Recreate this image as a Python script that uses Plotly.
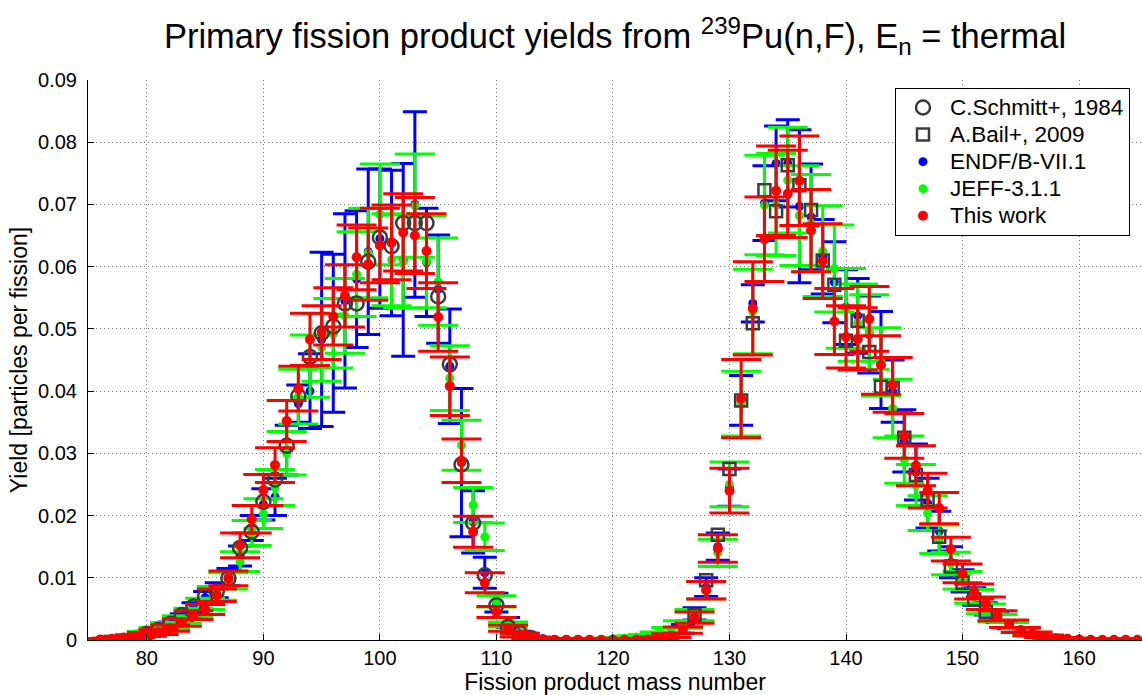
import plotly.graph_objects as go

# ---------------- data ----------------
# This work (red) : mass numbers 76..165
A_work = list(range(76, 166))
Y_work = [0.0001, 0.0002, 0.0004, 0.0006, 0.0009, 0.0013, 0.0019, 0.0028, 0.0040, 0.0049,
          0.0072, 0.0099, 0.0152, 0.0194, 0.0241, 0.0281, 0.0352, 0.0404, 0.0483, 0.0494,
          0.0520, 0.0553, 0.0615, 0.0604, 0.0634, 0.0639, 0.0655, 0.0650, 0.0625, 0.0519,
          0.0408, 0.0288, 0.0174, 0.0092, 0.0045, 0.0019, 0.0008, 0.0003, 0.0001, 0.00005,
          0.00005, 0.00005, 0.00005, 0.00005, 0.00005, 0.00005, 0.00005, 0.0001, 0.0003, 0.0007,
          0.0016, 0.0036, 0.0080, 0.0147, 0.0240, 0.0388, 0.0533, 0.0644, 0.0722, 0.0717,
          0.0738, 0.0658, 0.0609, 0.0512, 0.0487, 0.0484, 0.0516, 0.0442, 0.0410, 0.0328,
          0.0280, 0.0240, 0.0212, 0.0146, 0.0107, 0.0078, 0.0059, 0.0039, 0.0026, 0.0016,
          0.0010, 0.0006, 0.0003, 0.0002, 0.0001, 0.00005, 0.00005, 0.00005, 0.00005, 0.00005]
E_work = [0.0001, 0.0001, 0.0002, 0.0002, 0.0003, 0.0004, 0.0005, 0.0006, 0.0007, 0.0008,
          0.0010, 0.0012, 0.0020, 0.0022, 0.0025, 0.0028, 0.0033, 0.0036, 0.0042, 0.0043,
          0.0046, 0.0050, 0.0052, 0.0058, 0.0060, 0.0060, 0.0062, 0.0061, 0.0060, 0.0055,
          0.0047, 0.0035, 0.0025, 0.0016, 0.0009, 0.0005, 0.0003, 0.0002, 0.0001, 0.0001,
          0.0001, 0.0001, 0.0001, 0.0001, 0.0001, 0.0001, 0.0001, 0.0001, 0.0002, 0.0003,
          0.0005, 0.0009, 0.0014, 0.0022, 0.0036, 0.0063, 0.0075, 0.0068, 0.0072, 0.0070,
          0.0072, 0.0066, 0.0060, 0.0053, 0.0050, 0.0050, 0.0052, 0.0047, 0.0044, 0.0036,
          0.0032, 0.0028, 0.0025, 0.0019, 0.0015, 0.0012, 0.0010, 0.0008, 0.0006, 0.0004,
          0.0003, 0.0002, 0.0001, 0.0001, 0.0001, 0.0001, 0.0001, 0.0001, 0.0001, 0.0001]

# ENDF/B-VII.1 (blue) : 76..160
A_endf = list(range(76, 161))
Y_endf = [0.0001, 0.0002, 0.0004, 0.0007, 0.0011, 0.0016, 0.0024, 0.0036, 0.0052, 0.0068,
          0.0080, 0.0101, 0.0135, 0.0180, 0.0218, 0.0230, 0.0305, 0.0380, 0.0400, 0.0483,
          0.0493, 0.0545, 0.0580, 0.0624, 0.0645, 0.0638, 0.0611, 0.0700, 0.0607, 0.0564,
          0.0440, 0.0285, 0.0190, 0.0108, 0.0060, 0.0028, 0.0010, 0.0004, 0.0002, 0.0001,
          0.0001, 0.0001, 0.0001, 0.0001, 0.0001, 0.0001, 0.0001, 0.0001, 0.0003, 0.0008,
          0.0018, 0.0042, 0.0085, 0.0150, 0.0245, 0.0385, 0.0541, 0.0702, 0.0766, 0.0766,
          0.0697, 0.0680, 0.0616, 0.0575, 0.0535, 0.0521, 0.0491, 0.0450, 0.0400, 0.0320,
          0.0270, 0.0220, 0.0175, 0.0125, 0.0095, 0.0070, 0.0050, 0.0035, 0.0023, 0.0015,
          0.0009, 0.0005, 0.0003, 0.0002, 0.0001]
E_endf = [0.0001, 0.0001, 0.0002, 0.0002, 0.0003, 0.0004, 0.0005, 0.0006, 0.0008, 0.0010,
          0.0012, 0.0014, 0.0016, 0.0020, 0.0025, 0.0030, 0.0040, 0.0030, 0.0060, 0.0140,
          0.0127, 0.0140, 0.0110, 0.0133, 0.0112, 0.0117, 0.0155, 0.0149, 0.0087, 0.0087,
          0.0092, 0.0119, 0.0050, 0.0025, 0.0015, 0.0008, 0.0004, 0.0002, 0.0001, 0.0001,
          0.0001, 0.0001, 0.0001, 0.0001, 0.0001, 0.0001, 0.0001, 0.0001, 0.0002, 0.0004,
          0.0007, 0.0010, 0.0015, 0.0022, 0.0030, 0.0040, 0.0030, 0.0060, 0.0060, 0.0070,
          0.0123, 0.0085, 0.0060, 0.0065, 0.0060, 0.0060, 0.0062, 0.0078, 0.0050, 0.0050,
          0.0045, 0.0040, 0.0032, 0.0025, 0.0018, 0.0014, 0.0010, 0.0007, 0.0005, 0.0003,
          0.0002, 0.0002, 0.0001, 0.0001, 0.0001]

# JEFF-3.1.1 (green) : 76..160
A_jeff = list(range(76, 161))
Y_jeff = [0.0001, 0.0002, 0.0004, 0.0007, 0.0011, 0.0016, 0.0023, 0.0033, 0.0044, 0.0058,
          0.0075, 0.0095, 0.0126, 0.0172, 0.0203, 0.0245, 0.0300, 0.0391, 0.0440, 0.0470,
          0.0493, 0.0521, 0.0588, 0.0622, 0.0684, 0.0611, 0.0608, 0.0698, 0.0608, 0.0576,
          0.0421, 0.0313, 0.0217, 0.0166, 0.0062, 0.0025, 0.0009, 0.0003, 0.0001, 0.0001,
          0.0001, 0.0001, 0.0001, 0.0001, 0.0002, 0.0003, 0.0005, 0.0007, 0.0010, 0.0016,
          0.0025, 0.0040, 0.0080, 0.0140, 0.0250, 0.0380, 0.0528, 0.0699, 0.0700, 0.0739,
          0.0682, 0.0670, 0.0625, 0.0597, 0.0533, 0.0510, 0.0495, 0.0447, 0.0372, 0.0290,
          0.0249, 0.0204, 0.0162, 0.0123, 0.0096, 0.0070, 0.0050, 0.0035, 0.0024, 0.0015,
          0.0009, 0.0005, 0.0003, 0.0002, 0.0001]
E_jeff = [0.0001, 0.0001, 0.0002, 0.0002, 0.0003, 0.0004, 0.0005, 0.0006, 0.0007, 0.0009,
          0.0011, 0.0013, 0.0016, 0.0020, 0.0024, 0.0029, 0.0035, 0.0044, 0.0050, 0.0054,
          0.0056, 0.0060, 0.0068, 0.0072, 0.0081, 0.0074, 0.0075, 0.0083, 0.0074, 0.0070,
          0.0052, 0.0040, 0.0028, 0.0022, 0.0009, 0.0004, 0.0002, 0.0001, 0.0001, 0.0001,
          0.0001, 0.0001, 0.0001, 0.0001, 0.0001, 0.0001, 0.0002, 0.0002, 0.0003, 0.0004,
          0.0006, 0.0009, 0.0014, 0.0022, 0.0036, 0.0052, 0.0068, 0.0080, 0.0082, 0.0085,
          0.0080, 0.0078, 0.0073, 0.0070, 0.0064, 0.0062, 0.0060, 0.0055, 0.0047, 0.0038,
          0.0033, 0.0028, 0.0023, 0.0018, 0.0014, 0.0011, 0.0008, 0.0006, 0.0004, 0.0003,
          0.0002, 0.0001, 0.0001, 0.0001, 0.0001]

# C.Schmitt+, 1984 (open circles) : light peak
A_schmitt = list(range(80, 114))
Y_schmitt = [0.0010, 0.0016, 0.0026, 0.0040, 0.0054, 0.0070, 0.0078, 0.0099, 0.0148, 0.0174,
             0.0222, 0.0258, 0.0312, 0.0392, 0.0455, 0.0493, 0.0504, 0.0541, 0.0541, 0.0608,
             0.0647, 0.0633, 0.0670, 0.0670, 0.0670, 0.0552, 0.0443, 0.0282, 0.0188, 0.0104,
             0.0056, 0.0021, 0.0011, 0.0003]

# A.Bail+, 2009 (open squares) : heavy peak
A_bail = list(range(127, 153))
Y_bail = [0.0040, 0.0096, 0.0169, 0.0275, 0.0385, 0.0509, 0.0723, 0.0689, 0.0763, 0.0731,
          0.0691, 0.0610, 0.0571, 0.0481, 0.0513, 0.0463, 0.0407, 0.0405, 0.0325, 0.0265,
          0.0225, 0.0166, 0.0118, 0.0092, 0.0065, 0.0045]

SERIES_NAMES = ["C.Schmitt+, 1984", "A.Bail+, 2009", "ENDF/B-VII.1", "JEFF-3.1.1", "This work"]

X_TICKS = [80, 90, 100, 110, 120, 130, 140, 150, 160]
Y_TICKS = [0, 0.01, 0.02, 0.03, 0.04, 0.05, 0.06, 0.07, 0.08, 0.09]
Y_TICKTEXT = ["0", "0.01", "0.02", "0.03", "0.04", "0.05", "0.06", "0.07", "0.08", "0.09"]

FONT = "Liberation Sans, Arial, Helvetica, sans-serif"
GRAY = "#3c3c3c"


def lg(name):
    # legend label drawn a little larger than the legend row spacing font
    return '<span style="font-size:22.5px">' + name + "</span>"


fig = go.Figure()

fig.add_trace(go.Scatter(
    x=A_endf, y=Y_endf, mode="markers", name=lg(SERIES_NAMES[2]),
    marker=dict(color="#0000ff", size=9),
    error_y=dict(type="data", array=E_endf, color="#0000ff", thickness=3, width=12),
    legendrank=3))
fig.add_trace(go.Scatter(
    x=A_jeff, y=Y_jeff, mode="markers", name=lg(SERIES_NAMES[3]),
    marker=dict(color="#00ff00", size=9),
    error_y=dict(type="data", array=E_jeff, color="#00ff00", thickness=3, width=20),
    legendrank=4))
fig.add_trace(go.Scatter(
    x=A_schmitt, y=Y_schmitt, mode="markers", name=lg(SERIES_NAMES[0]),
    marker=dict(symbol="circle-open", color=GRAY, size=14, line=dict(width=2.5, color=GRAY)),
    legendrank=1))
fig.add_trace(go.Scatter(
    x=A_bail, y=Y_bail, mode="markers", name=lg(SERIES_NAMES[1]),
    marker=dict(symbol="square-open", color=GRAY, size=12, line=dict(width=2.5, color=GRAY)),
    legendrank=2))
fig.add_trace(go.Scatter(
    x=A_work, y=Y_work, mode="markers", name=lg(SERIES_NAMES[4]),
    marker=dict(color="#ff0000", size=10),
    error_y=dict(type="data", array=E_work, color="#ff0000", thickness=3, width=20),
    legendrank=5))

fig.update_layout(
    width=1142, height=695,
    margin=dict(l=88, r=0, t=80, b=55),
    paper_bgcolor="white", plot_bgcolor="white",
    font=dict(family=FONT, size=21, color="black"),
    title=dict(
        text="Primary fission product yields from <sup>239</sup>Pu(n,F), E<sub>n</sub> = thermal",
        font=dict(family=FONT, size=34.5, color="black"),
        x=0.5, xref="paper", xanchor="center",
        y=1 - 36 / 695, yref="container", yanchor="middle"),
    legend=dict(
        x=0.9886, y=0.9857, xanchor="right", yanchor="top",
        bgcolor="white", bordercolor="black", borderwidth=1,
        font=dict(family=FONT, size=18.5, color="black"),
        itemwidth=44, itemsizing="trace"),
    showlegend=True,
)

fig.update_xaxes(
    range=[74.95, 165.4], tickvals=X_TICKS,
    showline=True, linecolor="black", linewidth=1, mirror=False,
    ticks="inside", ticklen=6, tickcolor="black",
    showgrid=True, gridcolor="#777777", gridwidth=1, griddash="1px,3px",
    zeroline=False,
    tickfont=dict(family=FONT, size=20, color="black"),
    title=dict(text="Fission product mass number",
               font=dict(family=FONT, size=23, color="black"), standoff=0),
)
fig.update_yaxes(
    range=[0, 0.09], tickvals=Y_TICKS, ticktext=Y_TICKTEXT,
    showline=True, linecolor="black", linewidth=1, mirror=False,
    ticks="inside", ticklen=6, tickcolor="black",
    showgrid=True, gridcolor="#777777", gridwidth=1, griddash="1px,3px",
    zeroline=False, ticklabelstandoff=6,
    tickfont=dict(family=FONT, size=20, color="black"),
    title=dict(text="Yield [particles per fission]",
               font=dict(family=FONT, size=23, color="black"), standoff=4),
)

fig.write_html("out.html")
